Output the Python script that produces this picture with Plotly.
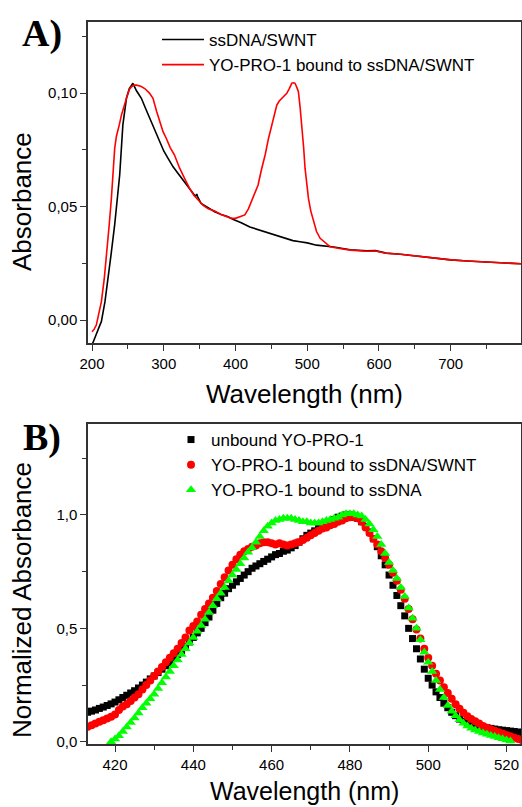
import plotly.graph_objects as go

# ---------------- Panel A data ----------------
wl_a_black = [200, 201.4, 205, 210, 213, 218, 222, 227, 231.6, 235, 238.6, 243, 248, 252, 257, 262,
              268.8, 275, 282.7, 292, 300, 306, 313, 320, 327, 334, 340, 344, 346, 347, 352, 361,
              371, 380, 389.7, 397, 408, 420, 432, 444, 455, 467, 480, 490, 500, 513, 537, 560,
              583, 595, 600, 610, 630, 650, 676, 700, 723, 750, 775, 798]
abs_a_black = [-0.011, -0.0096, -0.007, -0.003, -0.0007, 0.008, 0.017, 0.030, 0.042, 0.053, 0.064,
               0.086, 0.0977, 0.102, 0.1043, 0.101, 0.0977, 0.093, 0.0874, 0.080, 0.0745, 0.0712,
               0.0675, 0.0646, 0.0615, 0.0587, 0.056, 0.0545, 0.0555, 0.0545, 0.0514, 0.0495,
               0.0477, 0.0465, 0.0455, 0.0443, 0.0429, 0.041, 0.0398, 0.0385, 0.0372, 0.036,
               0.035, 0.0345, 0.034, 0.033, 0.0322, 0.031, 0.0305, 0.0306, 0.0302, 0.0295,
               0.029, 0.0282, 0.0272, 0.0265, 0.026, 0.0255, 0.025, 0.0248]

wl_a_red = [200, 203, 206, 210, 213, 217, 220, 224, 227, 230, 231.6, 234, 236, 238, 241, 244, 248,
            252, 255, 259, 262, 268, 273.5, 280, 285, 290, 294.4, 299, 303.6, 309, 315, 322, 329,
            336, 342, 348, 355, 362, 371, 380, 388, 394, 400, 407, 413, 418, 422, 427, 431.5, 436,
            441.3, 446, 450.6, 454, 457.6, 461, 464.6, 468, 471.5, 475, 478.5, 481, 483, 485.5,
            487.7, 490, 492.5, 495, 497, 499.5, 501.7, 505, 508.7, 513, 518, 525, 532, 545, 560,
            583, 595, 600, 610, 630, 650, 676, 700, 723, 750, 775, 798]
abs_a_red = [-0.0051, -0.004, -0.0022, 0.003, 0.008, 0.018, 0.0272, 0.042, 0.0536, 0.069, 0.0756,
             0.081, 0.083, 0.086, 0.0903, 0.094, 0.0977, 0.1015, 0.1028, 0.1035, 0.1035, 0.103,
             0.102, 0.100, 0.0977, 0.092, 0.0874, 0.083, 0.080, 0.076, 0.0727, 0.067, 0.0624,
             0.058, 0.055, 0.0529, 0.0505, 0.049, 0.048, 0.0465, 0.0455, 0.0448, 0.0448, 0.0455,
             0.0463, 0.049, 0.052, 0.056, 0.0595, 0.066, 0.0727, 0.080, 0.0859, 0.091, 0.0947,
             0.0965, 0.0977, 0.099, 0.0999, 0.102, 0.1043, 0.1045, 0.1043, 0.1025, 0.1006, 0.094,
             0.0859, 0.076, 0.0668, 0.059, 0.0536, 0.048, 0.0433, 0.039, 0.036, 0.034, 0.0323,
             0.0315, 0.0308, 0.0303, 0.0304, 0.0301, 0.0294, 0.029, 0.0282, 0.0272, 0.0265,
             0.026, 0.0255, 0.025, 0.0248]

# ---------------- Panel B data ----------------
wl_b_unbound = list(range(410, 525))
norm_unbound = [0.115, 0.12, 0.125, 0.13, 0.135, 0.14, 0.147, 0.153, 0.16, 0.167,
                0.175, 0.185, 0.195, 0.205, 0.215, 0.225, 0.237, 0.25, 0.263, 0.277,
                0.29, 0.305, 0.32, 0.335, 0.35, 0.367, 0.385, 0.402, 0.42, 0.44,
                0.46, 0.48, 0.50, 0.525, 0.55, 0.58, 0.61, 0.635, 0.655, 0.675,
                0.69, 0.705, 0.72, 0.735, 0.75, 0.765, 0.775, 0.785, 0.795, 0.805,
                0.815, 0.825, 0.83, 0.84, 0.845, 0.855, 0.865, 0.88, 0.895, 0.91,
                0.92, 0.93, 0.94, 0.95, 0.96, 0.97, 0.98, 0.99, 0.995, 1.0,
                1.0, 0.995, 0.985, 0.97, 0.95, 0.925, 0.895, 0.86, 0.82, 0.78,
                0.735, 0.69, 0.645, 0.60, 0.555, 0.50, 0.455, 0.41, 0.365, 0.32,
                0.28, 0.25, 0.22, 0.195, 0.17, 0.15, 0.13, 0.115, 0.10, 0.09,
                0.083, 0.077, 0.072, 0.068, 0.065, 0.062, 0.059, 0.056, 0.053, 0.051,
                0.049, 0.047, 0.045, 0.043, 0.041]

wl_b_swnt = list(range(410, 525))
norm_swnt = [0.05, 0.055, 0.06, 0.066, 0.073, 0.08, 0.088, 0.095, 0.103, 0.11,
             0.12, 0.14, 0.155, 0.165, 0.18, 0.195, 0.21, 0.23, 0.25, 0.27,
             0.29, 0.31, 0.33, 0.35, 0.37, 0.39, 0.41, 0.435, 0.46, 0.49,
             0.51, 0.53, 0.56, 0.585, 0.61, 0.635, 0.665, 0.695, 0.725, 0.755,
             0.78, 0.805, 0.825, 0.84, 0.85, 0.86, 0.865, 0.875, 0.88, 0.88,
             0.875, 0.87, 0.875, 0.87, 0.865, 0.87, 0.875, 0.88, 0.89, 0.90,
             0.91, 0.92, 0.93, 0.94, 0.945, 0.955, 0.96, 0.97, 0.975, 0.985,
             0.99, 0.99, 0.985, 0.97, 0.945, 0.92, 0.895, 0.87, 0.84, 0.81,
             0.78, 0.745, 0.71, 0.67, 0.63, 0.585, 0.54, 0.495, 0.455, 0.41,
             0.37, 0.335, 0.30, 0.27, 0.24, 0.215, 0.19, 0.165, 0.145, 0.128,
             0.113, 0.10, 0.09, 0.08, 0.07, 0.062, 0.055, 0.048, 0.042, 0.036,
             0.03, 0.024, 0.018, 0.012, 0.007]

wl_b_ssdna = list(range(419, 522))
norm_ssdna = [0.0, 0.012, 0.027, 0.045, 0.065, 0.085, 0.105, 0.127, 0.15, 0.17,
              0.19, 0.21, 0.235, 0.26, 0.285, 0.31, 0.335, 0.36, 0.385, 0.41,
              0.435, 0.46, 0.487, 0.513, 0.54, 0.57, 0.60, 0.63, 0.655, 0.68,
              0.71, 0.735, 0.76, 0.785, 0.81, 0.835, 0.855, 0.88, 0.905, 0.93,
              0.95, 0.965, 0.975, 0.98, 0.985, 0.985, 0.985, 0.98, 0.975, 0.97,
              0.97, 0.965, 0.965, 0.965, 0.97, 0.975, 0.98, 0.985, 0.99, 1.0,
              1.005, 1.005, 1.005, 1.0, 0.995, 0.98, 0.96, 0.935, 0.905, 0.87,
              0.83, 0.79, 0.755, 0.72, 0.68, 0.64, 0.59, 0.545, 0.50, 0.45,
              0.395, 0.35, 0.31, 0.27, 0.23, 0.195, 0.16, 0.135, 0.115, 0.097,
              0.082, 0.07, 0.06, 0.052, 0.045, 0.039, 0.033, 0.028, 0.023, 0.018,
              0.013, 0.008, 0.003]

W, H = 522, 807
FONT = "Liberation Sans, Arial, sans-serif"
AXC = "#333333"

def px_x(p):
    return p / W

def px_y(p):
    return 1 - p / H

domA_x = [px_x(88), px_x(521)]
domA_y = [px_y(343), px_y(22)]
domB_x = [px_x(88), px_x(521)]
domB_y = [px_y(744), px_y(424)]

rangeA_x = [194.4, 798]
rangeA_y = [-0.0101, 0.1313]
rangeB_x = [413.1, 523.7]
rangeB_y = [-0.0099, 1.401]

fig = go.Figure()

fig.add_trace(go.Scatter(x=wl_a_black, y=abs_a_black, mode="lines", name="ssDNA/SWNT",
                         line=dict(color="black", width=1.6), xaxis="x", yaxis="y",
                         legend="legend"))
fig.add_trace(go.Scatter(x=wl_a_red, y=abs_a_red, mode="lines", name="YO-PRO-1 bound to ssDNA/SWNT",
                         line=dict(color="#ff0000", width=1.6), xaxis="x", yaxis="y",
                         legend="legend"))

fig.add_trace(go.Scatter(x=wl_b_unbound, y=norm_unbound, mode="markers", name="unbound YO-PRO-1",
                         marker=dict(symbol="square", color="black", size=7),
                         xaxis="x2", yaxis="y2", legend="legend2"))
fig.add_trace(go.Scatter(x=wl_b_swnt, y=norm_swnt, mode="markers", name="YO-PRO-1 bound to ssDNA/SWNT",
                         marker=dict(symbol="circle", color="#ff0000", size=8),
                         xaxis="x2", yaxis="y2", legend="legend2"))
fig.add_trace(go.Scatter(x=wl_b_ssdna, y=norm_ssdna, mode="markers", name="YO-PRO-1 bound to ssDNA",
                         marker=dict(symbol="triangle-up", color="#00ff00", size=9),
                         xaxis="x2", yaxis="y2", legend="legend2"))

tickfont = dict(family=FONT, size=15, color="black")

def main_x(dom, rng, dtick, minor_dtick, anchor):
    return dict(domain=dom, range=rng, anchor=anchor, showgrid=False, zeroline=False,
                showline=True, linecolor=AXC, linewidth=1.5, mirror=True,
                ticks="outside", ticklen=6, tickwidth=1.3, tickcolor=AXC,
                dtick=dtick, tick0=0, tickfont=tickfont, automargin=False,
                minor=dict(dtick=minor_dtick, ticks="outside", ticklen=4, tickwidth=1.3,
                           tickcolor=AXC, showgrid=False))

def main_y(dom, rng, dtick, minor_dtick, anchor, fmt):
    return dict(domain=dom, range=rng, anchor=anchor, showgrid=False, zeroline=False,
                showline=True, linecolor=AXC, linewidth=1.5, mirror=True,
                ticks="outside", ticklen=6, tickwidth=1.3, tickcolor=AXC,
                dtick=dtick, tick0=0, tickformat=fmt, tickfont=tickfont, automargin=False,
                minor=dict(dtick=minor_dtick, ticks="outside", ticklen=4, tickwidth=1.3,
                           tickcolor=AXC, showgrid=False))

def top_x(dom, rng, dtick, anchor, over):
    return dict(domain=dom, range=rng, anchor=anchor, overlaying=over, side="top",
                showgrid=False, zeroline=False, showline=False, showticklabels=False,
                ticks="inside", ticklen=4, tickwidth=1.3, tickcolor=AXC, dtick=dtick, tick0=0)

def right_y(dom, rng, dtick, anchor, over):
    return dict(domain=dom, range=rng, anchor=anchor, overlaying=over, side="right",
                showgrid=False, zeroline=False, showline=False, showticklabels=False,
                ticks="inside", ticklen=4, tickwidth=1.3, tickcolor=AXC, dtick=dtick, tick0=0)

fig.update_layout(
    width=W, height=H,
    margin=dict(l=0, r=0, t=0, b=0, autoexpand=False),
    paper_bgcolor="white", plot_bgcolor="white",
    separators=",.",
    font=dict(family=FONT, color="black"),
    xaxis=main_x(domA_x, rangeA_x, 100, 50, "y"),
    yaxis=main_y(domA_y, rangeA_y, 0.05, 0.025, "x", ".2f"),
    xaxis2=main_x(domB_x, rangeB_x, 20, 10, "y2"),
    yaxis2=main_y(domB_y, rangeB_y, 0.5, 0.25, "x2", ".1f"),
    xaxis3=top_x(domA_x, rangeA_x, 50, "y", "x"),
    yaxis3=right_y(domA_y, rangeA_y, 0.025, "x", "y"),
    xaxis4=top_x(domB_x, rangeB_x, 10, "y2", "x2"),
    yaxis4=right_y(domB_y, rangeB_y, 0.25, "x2", "y2"),
    legend=dict(x=px_x(157), y=px_y(22), xanchor="left", yanchor="top",
                bgcolor="rgba(0,0,0,0)", borderwidth=0, tracegroupgap=0, itemwidth=42,
                font=dict(family=FONT, size=17, color="black")),
    legend2=dict(x=px_x(171), y=px_y(422), xanchor="left", yanchor="top",
                 bgcolor="rgba(0,0,0,0)", borderwidth=0, tracegroupgap=0,
                 font=dict(family=FONT, size=17, color="black")),
    showlegend=True,
)

ann_font = dict(family=FONT, size=26, color="black")
fig.add_annotation(text="Absorbance", x=px_x(22), y=px_y(202), xref="paper", yref="paper",
                   textangle=-90, showarrow=False, font=ann_font, xanchor="center", yanchor="middle")
fig.add_annotation(text="Wavelength (nm)", x=px_x(304), y=px_y(394), xref="paper", yref="paper",
                   showarrow=False, font=ann_font, xanchor="center", yanchor="middle")
fig.add_annotation(text="Normalized Absorbance", x=px_x(22), y=px_y(600), xref="paper", yref="paper",
                   textangle=-90, showarrow=False, font=ann_font, xanchor="center", yanchor="middle")
fig.add_annotation(text="Wavelength (nm)", x=px_x(304), y=px_y(806), xref="paper", yref="paper",
                   showarrow=False, font=dict(family=FONT, size=25, color="black"),
                   xanchor="center", yanchor="bottom", borderpad=0)

lab_font = dict(family="Liberation Serif, Times New Roman, serif", size=38, color="black")
fig.add_annotation(text="<b>A)</b>", x=px_x(20), y=px_y(34), xref="paper", yref="paper",
                   showarrow=False, font=lab_font, xanchor="left", yanchor="middle")
fig.add_annotation(text="<b>B)</b>", x=px_x(21), y=px_y(437), xref="paper", yref="paper",
                   showarrow=False, font=lab_font, xanchor="left", yanchor="middle")

fig.write_html("out.html", config={"displayModeBar": False},
               post_script="document.body.style.margin='0px';document.body.style.overflow='hidden';")
